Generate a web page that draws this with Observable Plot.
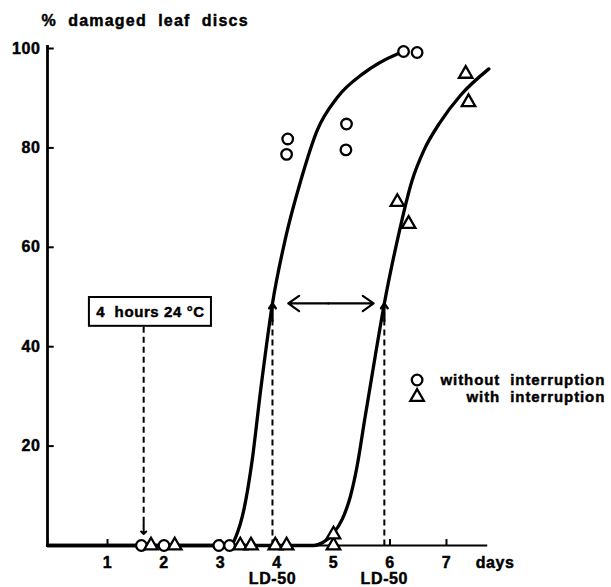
<!DOCTYPE html>
<html><head><meta charset="utf-8">
<script src="https://cdn.jsdelivr.net/npm/d3@7"></script>
<script src="https://cdn.jsdelivr.net/npm/@observablehq/plot@0.6"></script>
<style>
body{margin:0;background:#fff;}
#chart svg text{white-space:pre;}
</style></head><body><div id="chart"></div>
<script>
// ---- data ----
const yTicks = [20, 40, 60, 80, 100];
const xTicks = [1, 2, 3, 4, 5, 6, 7];
const xTickLabels = ["1", "2", "3", "4", "5", "6", "7"];

// observations: without interruption (circles)
const withoutDays = [1.6, 2.0, 2.97, 3.16, 4.19, 4.17, 5.23, 5.22, 6.24, 6.48];
const withoutPct  = [0, 0, 0, 0, 81.8, 78.7, 84.8, 79.6, 99.4, 99.2];
// observations: with interruption (triangles)
const withDays = [1.77, 2.19, 3.35, 3.54, 3.97, 4.17, 5.0, 5.0, 6.13, 6.33, 7.34, 7.39];
const withPct  = [0, 0, 0, 0, 0, 0, 0, 2.2, 69.1, 64.7, 94.9, 89.2];

// fitted curves
const curve1Days = [-0.062, 3.18, 3.28, 3.41, 3.56, 3.71, 3.92, 4.15, 4.42, 4.71, 5.07, 5.53, 6.13, 6.24];
const curve1Pct  = [0, 0, 2, 7, 17.1, 31.2, 48.7, 61.8, 73.4, 83.5, 90.2, 95.0, 98.9, 99.4];
const curve2Days = [-0.062, 4.65, 4.81, 4.98, 5.16, 5.30, 5.42, 5.55, 5.74, 5.90, 6.13, 6.39, 6.60, 6.89, 7.25, 7.75];
const curve2Pct  = [0, 0, 0.6, 2.2, 5.4, 9.9, 16.1, 25.2, 38.2, 48.7, 61.4, 73.4, 79.5, 85.2, 90.6, 95.9];

// LD-50 positions
const ld50Days = [3.92, 5.90];
const ld50Pct = 48.7;
const ld50Label = "LD-50";

// treatment marker
const treatDay = 1.64;
const treatLabel = "4  hours 24 °C";

const titleText = "%  damaged  leaf  discs";
const xAxisLabel = "days";
const legendLabels = ["without  interruption", "with  interruption"];

// ---- build ----
const xMin = -0.062, xMax = 9.85;
const zip = (a, b) => a.map((v, i) => ({d: v, p: b[i]}));
const without = zip(withoutDays, withoutPct);
const withI = zip(withDays, withPct);
const curve1 = zip(curve1Days, curve1Pct);
const curve2 = zip(curve2Days, curve2Pct);
const FONT = "'Liberation Sans', Arial, Helvetica, sans-serif";
const midArrow = (ld50Days[0] + ld50Days[1]) / 2;
const T = {fontWeight: "bold", fill: "black", stroke: "black", strokeWidth: 0.45};

const plot = Plot.plot({
  width: 611, height: 587,
  marginLeft: 47, marginRight: 4, marginTop: 48, marginBottom: 42,
  x: {domain: [xMin, xMax], axis: null},
  y: {domain: [0, 100], axis: null},
  style: {fontFamily: FONT, background: "white", color: "black", overflow: "visible"},
  marks: [
    // axes lines
    Plot.ruleX([xMin], {y1: 0, y2: 100.6, strokeWidth: 2.8, stroke: "black"}),
    Plot.ruleY([0], {x1: xMin, x2: 7.73, strokeWidth: 2, stroke: "black"}),
    // inward ticks
    Plot.link(yTicks, {x1: xMin, x2: xMin + 0.11, y1: d => d, y2: d => d, strokeWidth: 2, stroke: "black"}),
    Plot.link(xTicks, {x1: d => d, x2: d => d, y1: 0, y2: 1.3, strokeWidth: 2, stroke: "black"}),
    // tick labels
    Plot.text(yTicks, {x: xMin, y: d => d, text: d => String(d), dx: -7, textAnchor: "end", fontSize: 16, ...T}),
    Plot.text(xTicks, {x: d => d, y: 0, text: (d, i) => xTickLabels[i], dy: 17, fontSize: 16, ...T}),
    Plot.text([xAxisLabel], {x: 7.86, y: 0, text: d => d, dy: 17, fontSize: 16, ...T}),
    // title
    Plot.text([titleText], {frameAnchor: "top-left", text: d => d, dx: -6, dy: -34, textAnchor: "start", fontSize: 16, className: "title", ...T}),
    // LD-50 dashed lines & labels
    Plot.link(ld50Days, {x1: d => d, x2: d => d, y1: 0, y2: ld50Pct - 3, strokeWidth: 2, strokeDasharray: "6,4", stroke: "black"}),
    Plot.arrow(ld50Days, {x1: d => d, x2: d => d, y1: ld50Pct - 3.5, y2: ld50Pct, headLength: 9, headAngle: 70, strokeWidth: 2.4, stroke: "black"}),
    Plot.text(ld50Days, {x: d => d, y: 0, text: () => ld50Label, dy: 33, fontSize: 16, ...T}),
    // double arrow between LD-50s
    Plot.arrow([4.2, 5.71], {x1: midArrow, x2: d => d, y1: ld50Pct, y2: ld50Pct, headLength: 9, headAngle: 70, strokeWidth: 2.2, stroke: "black"}),
    // curves
    Plot.line(curve1, {x: "d", y: "p", curve: "monotone-x", strokeWidth: 3.3, stroke: "black"}),
    Plot.line(curve2, {x: "d", y: "p", curve: "monotone-x", strokeWidth: 3.3, stroke: "black"}),
    // treatment annotation
    Plot.link([treatDay], {x1: d => d, x2: d => d, y1: 44, y2: 4, strokeWidth: 2, strokeDasharray: "6,4", stroke: "black"}),
    Plot.arrow([treatDay], {x1: d => d, x2: d => d, y1: 4.5, y2: 2.3, headLength: 7, headAngle: 90, strokeWidth: 2, stroke: "black"}),
    Plot.rect([treatLabel], {x1: 0.68, x2: 2.84, y1: 44.1, y2: 49.9, fill: "white", stroke: "black", strokeWidth: 2}),
    Plot.text([treatLabel], {x: 1.76, y: 47.0, text: d => d, fontSize: 15, ...T}),
    // observations
    Plot.dot(without, {x: "d", y: "p", r: 5.3, symbol: "circle", stroke: "black", strokeWidth: 2.3, fill: "white"}),
    Plot.dot(withI, {x: "d", y: "p", r: 5, symbol: "triangle", stroke: "black", strokeWidth: 2.3, fill: "white"}),
    // legend
    Plot.dot([0], {x: 6.48, y: 33.3, r: 5.3, symbol: "circle", stroke: "black", strokeWidth: 2.3, fill: "white"}),
    Plot.dot([0], {x: 6.48, y: 29.9, r: 5, symbol: "triangle", stroke: "black", strokeWidth: 2.3, fill: "white"}),
    Plot.text([legendLabels[0]], {x: 9.81, y: 33.3, text: d => d, textAnchor: "end", fontSize: 15, className: "legend", ...T}),
    Plot.text([legendLabels[1]], {x: 9.81, y: 29.9, text: d => d, textAnchor: "end", fontSize: 15, className: "legend", ...T})
  ]
});
// widen lettering slightly to match the original typeface
d3.select(plot).selectAll("text").style("letter-spacing", "0.6px");
d3.select(plot).selectAll(".title text").style("letter-spacing", "1.2px");
d3.select(plot).selectAll(".legend text").style("letter-spacing", "0.9px");
document.getElementById("chart").appendChild(plot);
</script>
</body></html>
